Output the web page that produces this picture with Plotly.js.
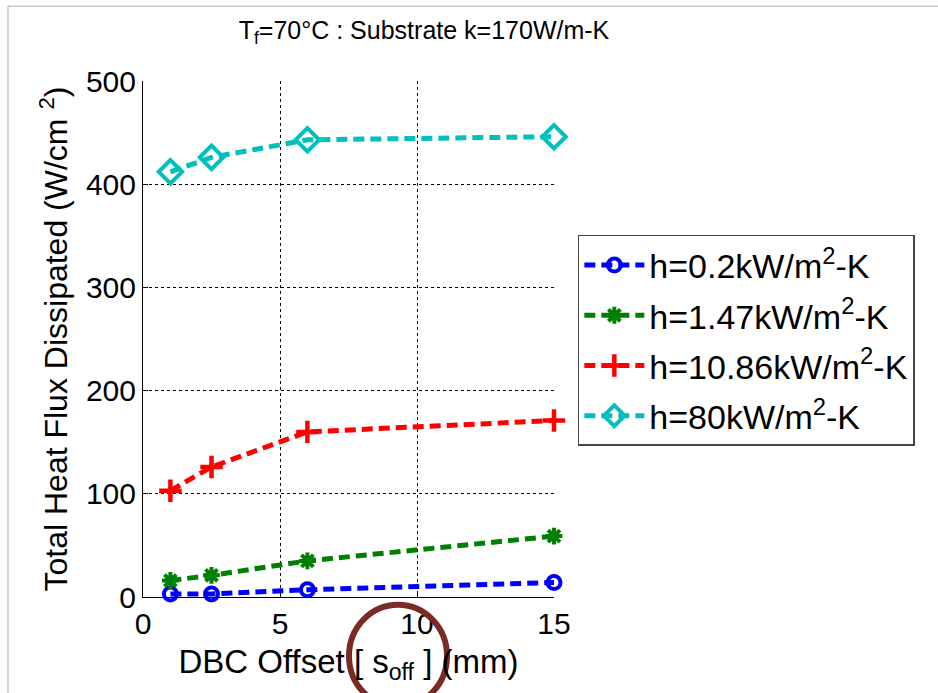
<!DOCTYPE html>
<html>
<head>
<meta charset="utf-8">
<script src="https://cdn.plot.ly/plotly-3.0.1.min.js"></script>
<style>html,body{margin:0;padding:0;background:#fff;}</style>
</head>
<body>
<div id="chart" style="width:938px;height:693px;"></div>
<script>
// DBC offset values (mm)
const offsets = [1, 2.5, 6, 15];
// Total heat flux dissipated (W/cm^2) for each h
const h02 = [3, 3, 7, 14];
const h147 = [16, 21, 35, 59];
const h1086 = [103, 126, 160, 171];
const h80 = [412, 426, 443, 446];
const seriesNames = [
  'h=0.2kW/m<sup>2</sup>-K',
  'h=1.47kW/m<sup>2</sup>-K',
  'h=10.86kW/m<sup>2</sup>-K',
  'h=80kW/m<sup>2</sup>-K'
];
const xTicks = [0, 5, 10, 15];
const yTicks = [0, 100, 200, 300, 400, 500];

const FONT = 'Liberation Sans, Arial, sans-serif';
function tr(y, name, color, symbol, size, mlw, grp) {
  return {
    x: offsets, y: y, name: name, type: 'scatter', mode: 'lines+markers',
    legendgroup: grp,
    line: {color: color, width: 5, dash: '11px,6px'},
    marker: {symbol: symbol, size: size, color: color, line: {color: color, width: mlw}},
    cliponaxis: false
  };
}
const data = [
  tr(h02, seriesNames[0], '#0000FF', 'circle-open', 13, 4, 'a'),
  tr(h147, seriesNames[1], '#008000', 'asterisk-open', 14, 4, 'b'),
  tr(h1086, seriesNames[2], '#FF0000', 'cross-thin-open', 16, 4.5, 'c'),
  tr(h80, seriesNames[3], '#00BFBF', 'diamond-open', 18, 4, 'd')
];

const layout = {
  width: 938, height: 693,
  margin: {l: 143, r: 384, t: 81, b: 96, pad: 0},
  paper_bgcolor: '#fff', plot_bgcolor: '#fff',
  font: {family: FONT, size: 27, color: '#000'},
  showlegend: true,
  title: {
    text: 'T<sub>f</sub>=70°C : Substrate k=170W/m-K',
    font: {family: FONT, size: 25, color: '#000'},
    xref: 'container', yref: 'container',
    x: 0.452, xanchor: 'center', y: 0.957, yanchor: 'middle'
  },
  xaxis: {
    range: [0, 15], tickvals: xTicks, ticktext: xTicks.map(String),
    showgrid: true, gridcolor: '#000', griddash: 'dot', gridwidth: 1,
    zeroline: false, showline: true, linecolor: '#000', linewidth: 1,
    ticks: 'inside', ticklen: 5, tickcolor: '#000',
    tickfont: {family: FONT, size: 30, color: '#000'},
    automargin: false,
    title: {text: 'DBC Offset [ s<sub>off</sub> ] (mm)', font: {family: FONT, size: 33, color: '#000'}, standoff: 10}
  },
  yaxis: {
    range: [0, 500], tickvals: yTicks, ticktext: yTicks.map(String),
    showgrid: true, gridcolor: '#000', griddash: 'dot', gridwidth: 1,
    zeroline: false, showline: true, linecolor: '#000', linewidth: 1,
    ticks: 'inside', ticklen: 5, tickcolor: '#000',
    tickfont: {family: FONT, size: 30, color: '#000'},
    automargin: false,
    title: {text: 'Total Heat Flux Dissipated (W/cm <sup>2</sup>)', font: {family: FONT, size: 32, color: '#000'}, standoff: 8}
  },
  legend: {
    x: 1.058, y: 0.7016, xanchor: 'left', yanchor: 'top',
    bgcolor: '#fff', bordercolor: '#444', borderwidth: 1.5,
    font: {family: FONT, size: 34, color: '#000'},
    tracegroupgap: 3, itemwidth: 60
  },
  shapes: [
    {type: 'line', xref: 'paper', yref: 'paper', x0: -0.3285, x1: 1.9465, y0: 1.145, y1: 1.145, line: {color: '#c8c8c8', width: 1.5}},
    {type: 'line', xref: 'paper', yref: 'paper', x0: -0.3285, x1: -0.3285, y0: 1.145, y1: -0.2, line: {color: '#c8c8c8', width: 1.5}},
    {type: 'circle', xref: 'paper', yref: 'paper', x0: 0.5012, x1: 0.7397, y0: -0.015, y1: -0.2132, line: {color: '#7B2A24', width: 6}}
  ]
};
Plotly.newPlot('chart', data, layout, {displayModeBar: false, staticPlot: true});
</script>
</body>
</html>
